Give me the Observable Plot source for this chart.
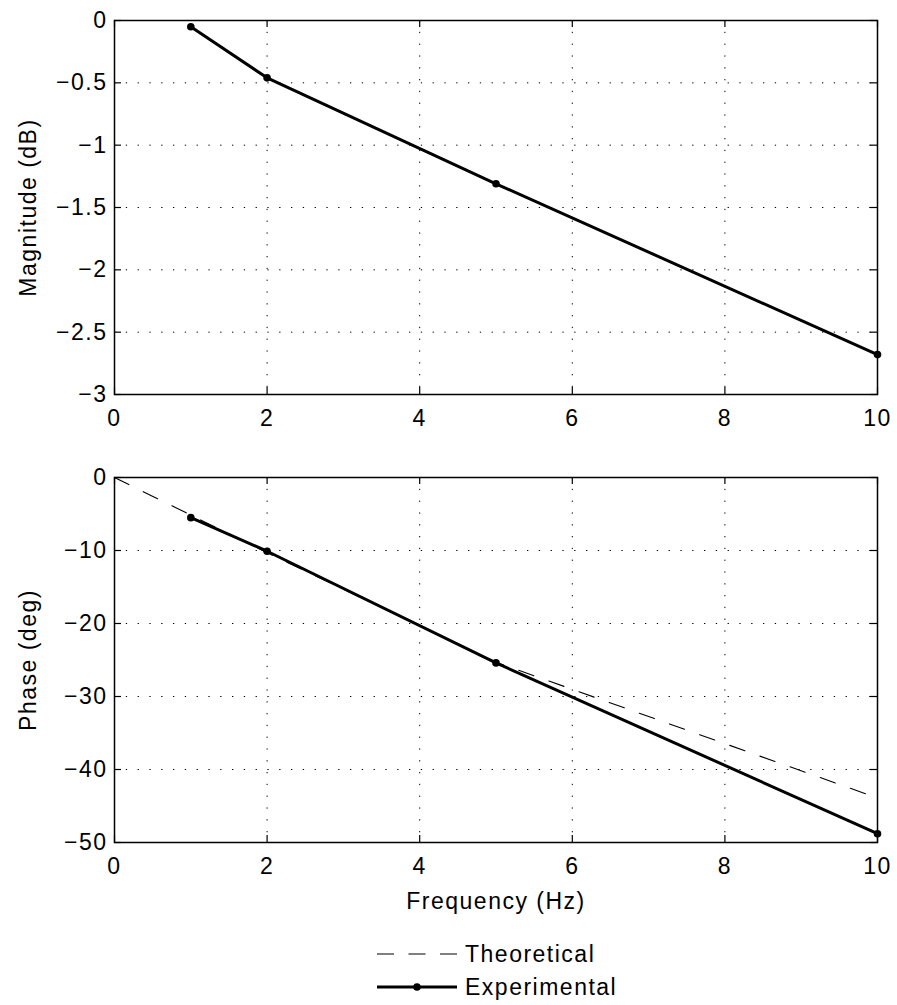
<!DOCTYPE html>
<html><head><meta charset="utf-8">
<script src="https://cdn.jsdelivr.net/npm/d3@7"></script>
<script src="https://cdn.jsdelivr.net/npm/@observablehq/plot@0.6"></script>
<style>
body{margin:0;background:#fff;font-family:"Liberation Sans",Arial,sans-serif}
#wrap{width:897px;position:relative}
#wrap svg{display:block}
#legend{width:897px;height:83px;position:relative}
</style>
</head><body><div id="wrap"></div>
<script>
// Data
const freq = [1, 2, 5, 10];
const magnitudeDb = [-0.05, -0.46, -1.31, -2.68];
const phaseDeg = [-5.5, -10.1, -25.4, -48.8];
const theoFreq = [0, 2, 5, 10];
const theoPhase = [0, -10.3, -25.3, -43.9];
const xTicks = [0, 2, 4, 6, 8, 10];
const magTicks = [0, -0.5, -1, -1.5, -2, -2.5, -3];
const phaseTicks = [0, -10, -20, -30, -40, -50];
const seriesNames = ["Theoretical", "Experimental"];

const expMag = freq.map((f, i) => ({f, v: magnitudeDb[i]}));
const expPhase = freq.map((f, i) => ({f, v: phaseDeg[i]}));
const theo = theoFreq.map((f, i) => ({f, v: theoPhase[i]}));

const W = 897, ML = 114, MR = 20, FS = 23;
const font = {fontFamily: '"Liberation Sans", Arial, sans-serif', fontSize: FS + "px", letterSpacing: "1.5px", background: "white", overflow: "visible"};
const fmt = d3.format("");

function panel({yDomain, yTicks, ylabel, xlabel, marginTop, height, marginBottom, lines}) {
  const plotW = W - ML - MR, plotH = height - marginTop - marginBottom;
  const tx = 7 * (10 / plotW);
  const ty = 7 * ((yDomain[1] - yDomain[0]) / plotH);
  const [y0, y1] = yDomain;
  const marks = [
    Plot.gridX(xTicks, {stroke: "black", strokeOpacity: 1, strokeWidth: 1, strokeDasharray: "1.3,10.5"}),
    Plot.gridY(yTicks, {stroke: "black", strokeOpacity: 1, strokeWidth: 1, strokeDasharray: "1.3,10.5"}),
    Plot.ruleX(xTicks, {x: d => d, y1: y0, y2: y0 + ty, stroke: "black", strokeWidth: 1.2}),
    Plot.ruleX(xTicks, {x: d => d, y1: y1, y2: y1 - ty, stroke: "black", strokeWidth: 1.2}),
    Plot.ruleY(yTicks, {y: d => d, x1: 0, x2: tx, stroke: "black", strokeWidth: 1.2}),
    Plot.ruleY(yTicks, {y: d => d, x1: 10, x2: 10 - tx, stroke: "black", strokeWidth: 1.2}),
    ...lines,
    Plot.frame({stroke: "black", strokeWidth: 1.5}),
    Plot.axisX(xTicks, {tickSize: 0, tickPadding: 15, tickFormat: fmt, label: xlabel, labelAnchor: "center", labelArrow: "none", labelOffset: 66, fontSize: FS}),
    Plot.axisY(yTicks, {tickSize: 0, tickPadding: 7, tickFormat: fmt, label: ylabel, labelAnchor: "center", labelArrow: "none", labelOffset: 95, fontSize: FS})
  ];
  return Plot.plot({
    width: W, height, marginLeft: ML, marginRight: MR, marginTop, marginBottom,
    style: font,
    x: {domain: [0, 10]},
    y: {domain: yDomain},
    marks
  });
}

const topPanel = panel({
  yDomain: [-3, 0], yTicks: magTicks, ylabel: "Magnitude (dB)", xlabel: null,
  marginTop: 20, height: 432, marginBottom: 38,
  lines: [
    Plot.line(expMag, {x: "f", y: "v", stroke: "black", strokeWidth: 3}),
    Plot.dot(expMag, {x: "f", y: "v", r: 3.8, fill: "black"})
  ]
});
const bottomPanel = panel({
  yDomain: [-50, 0], yTicks: phaseTicks, ylabel: "Phase (deg)", xlabel: "Frequency (Hz)",
  marginTop: 45, height: 490, marginBottom: 80,
  lines: [
    Plot.line(theo, {x: "f", y: "v", stroke: "black", strokeWidth: 1.1, strokeDasharray: "16,16"}),
    Plot.line(expPhase, {x: "f", y: "v", stroke: "black", strokeWidth: 3}),
    Plot.dot(expPhase, {x: "f", y: "v", r: 3.8, fill: "black"})
  ]
});
const wrap = document.getElementById("wrap");
wrap.appendChild(topPanel);
wrap.appendChild(bottomPanel);

const lg = document.createElement("div");
lg.id = "legend";
lg.innerHTML = `<svg width="897" height="83" style="font-family:'Liberation Sans',Arial,sans-serif;font-size:${FS}px;letter-spacing:1.5px">
  <line x1="377" x2="457" y1="32" y2="32" stroke="black" stroke-width="1.1" stroke-dasharray="17,14.5"/>
  <text x="465" y="32" dy="0.35em">${seriesNames[0]}</text>
  <line x1="377" x2="457" y1="65" y2="65" stroke="black" stroke-width="3"/>
  <circle cx="417" cy="65" r="3.8" fill="black"/>
  <text x="465" y="65" dy="0.35em">${seriesNames[1]}</text>
</svg>`;
wrap.appendChild(lg);
</script>
</body></html>
